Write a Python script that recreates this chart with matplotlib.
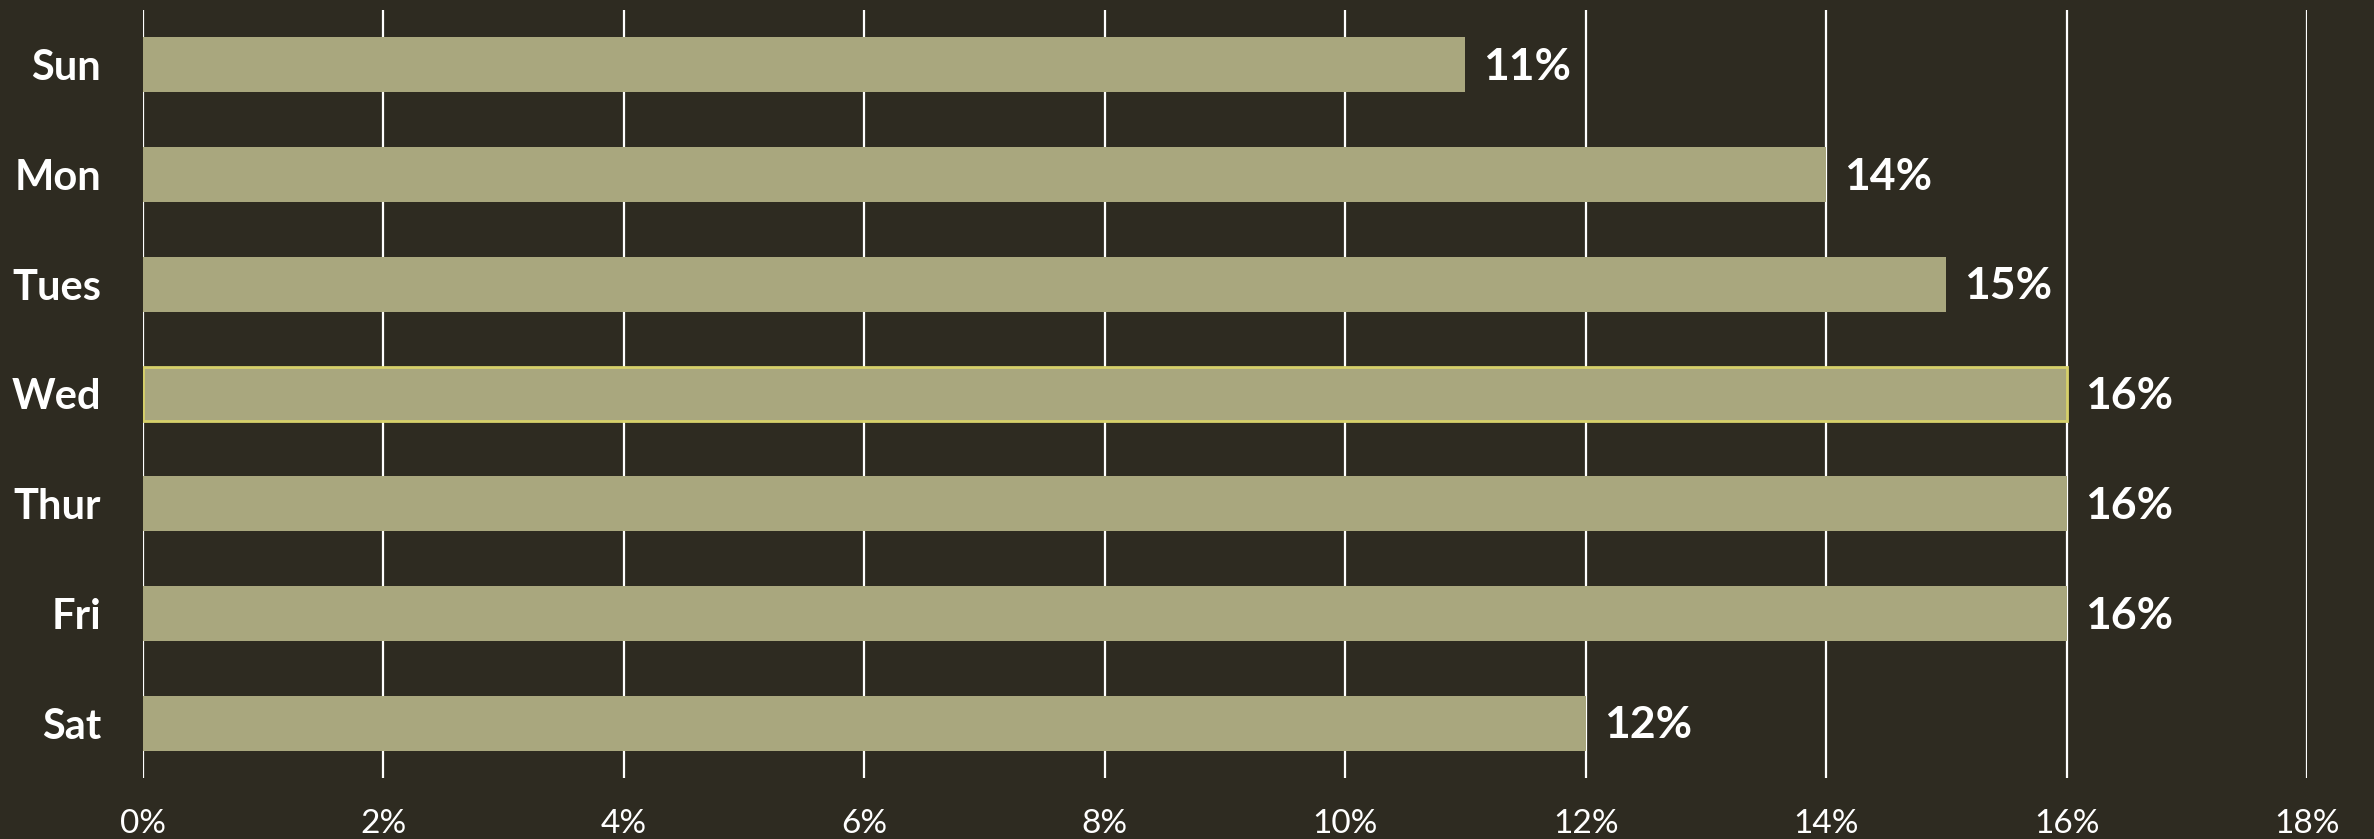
import matplotlib.pyplot as plt
from matplotlib.ticker import FuncFormatter

days = ["Sun", "Mon", "Tues", "Wed", "Thur", "Fri", "Sat"]
shares = [11, 14, 15, 16, 16, 16, 12]
highlight = "Wed"

bg = "#2e2b21"
bar_color = "#a9a77e"

plt.rcParams['font.family'] = ['Lato', 'DejaVu Sans']

fig = plt.figure(figsize=(23.74, 8.39), dpi=100, facecolor=bg)
ax = fig.add_axes([0.0602, 0.0727, 0.9116, 0.9154])
ax.set_facecolor(bg)

pos = list(range(len(days)))
for i, (d, v) in enumerate(zip(days, shares)):
    if d == highlight:
        ax.barh(i, v, height=0.5, color=bar_color, edgecolor="#d6d06a", linewidth=2, zorder=3)
    else:
        ax.barh(i, v, height=0.5, color=bar_color, zorder=3)
    ax.text(v + 0.15, i + 0.02, f"{v}%", va="center", ha="left", color="white",
            fontsize=32, fontweight="bold")

ax.set_xlim(0, 18)
ax.set_ylim(len(days) - 0.5, -0.5)
ax.set_xticks(range(0, 19, 2))
ax.xaxis.set_major_formatter(FuncFormatter(lambda x, p: f"{int(x)}%"))
ax.set_yticks(pos)
ax.set_yticklabels(days, fontsize=30, fontweight="bold", color="white")
ax.tick_params(axis="x", length=0, labelsize=24, labelcolor="white", pad=22)
ax.tick_params(axis="y", length=0, pad=30)
ax.grid(axis="x", color="white", linewidth=1.6, zorder=0)
ax.set_axisbelow(True)
for s in ax.spines.values():
    s.set_visible(False)

fig.savefig("out.png", dpi=100, facecolor=bg)
